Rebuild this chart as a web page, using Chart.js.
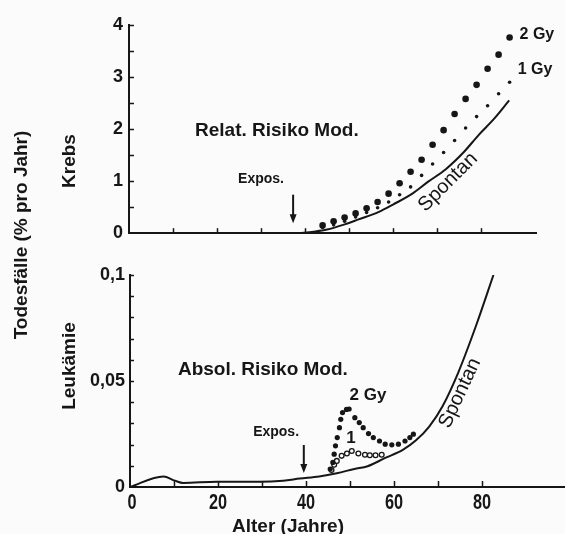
<!DOCTYPE html>
<html>
<head>
<meta charset="utf-8">
<script src="https://cdn.jsdelivr.net/npm/chart.js@4.4.1/dist/chart.umd.min.js"></script>
<style>
  html, body { margin: 0; padding: 0; background: #fbfbfb; }
  #wrap { position: relative; width: 565px; height: 534px; overflow: hidden; background: #fbfbfb; }
  canvas { position: absolute; left: 0; }
  .t { position: absolute; white-space: nowrap; font-family: "Liberation Sans", Arial, sans-serif;
       font-weight: bold; color: #161616; transform: translate(-50%, -50%); line-height: 1; }
  .v { transform: translate(-50%, -50%) rotate(-90deg); }
</style>
</head>
<body>
<div id="wrap">
  <canvas id="krebs" width="565" height="250" style="top:0"></canvas>
  <canvas id="leuk" width="565" height="284" style="top:250px"></canvas>
  <div class="t v" style="left:20px; top:235px; font-size:19px">Todesfälle (% pro Jahr)</div>
  <div class="t v" style="left:68px; top:161px; font-size:19px">Krebs</div>
  <div class="t v" style="left:68px; top:366px; font-size:19px">Leukämie</div>
  <div class="t" style="left:288px; top:525px; font-size:19px">Alter (Jahre)</div>
</div>
<script>
// ---- Krebs (relative risk model), deaths in % per year ----
const krebsSpontanAge = [38.6, 42, 45, 49, 52, 56.8, 60, 64.4, 68, 72, 76, 79.5, 83, 86.4];
const krebsSpontan    = [0, 0.03, 0.07, 0.17, 0.26, 0.41, 0.55, 0.76, 0.99, 1.23, 1.55, 1.89, 2.2, 2.55];
const krebsDoseAge    = [44, 46.5, 49, 51.5, 54, 56.5, 59, 61.5, 64, 66.5, 69, 71.5, 74, 76.5, 79, 81.5, 84, 86.5];
const krebs2Gy        = [0.15, 0.23, 0.30, 0.38, 0.48, 0.60, 0.76, 0.96, 1.18, 1.41, 1.70, 1.98, 2.29, 2.58, 2.85, 3.16, 3.43, 3.76];
const krebs1Gy        = [0.11, 0.16, 0.23, 0.31, 0.40, 0.49, 0.60, 0.74, 0.89, 1.11, 1.33, 1.55, 1.78, 2.02, 2.24, 2.45, 2.68, 2.90];

// ---- Leukämie (absolute risk model) ----
const leukSpontanAge = [0, 7.6, 10.2, 12.1, 19.7, 29.5, 34.8, 38.6, 43, 47, 51, 54, 58, 62, 65, 68, 71, 74.6, 78.8, 82.6];
const leukSpontan    = [0, 0.005, 0.003, 0.0019, 0.0025, 0.0025, 0.003, 0.004, 0.005, 0.0065, 0.0085, 0.0098, 0.0137, 0.0175, 0.022, 0.0285, 0.038, 0.054, 0.077, 0.1];
const leuk2GyAge = [45.5, 46.1, 46.4, 46.7, 47.1, 47.6, 47.9, 48.3, 49.2, 49.8, 51.1, 52.1, 53, 54.2, 55.3, 56.7, 58, 59.5, 61, 62.5, 63.6, 64.4];
const leuk2Gy    = [0.0085, 0.0116, 0.0155, 0.0194, 0.0233, 0.028, 0.0319, 0.0351, 0.0366, 0.0368, 0.0327, 0.0304, 0.028, 0.0252, 0.0233, 0.0217, 0.0202, 0.0199, 0.0202, 0.0217, 0.0233, 0.0249];
const leuk1GyAge = [45.8, 46.4, 47, 48.1, 49.3, 50.4, 51.9, 53.4, 54.5, 55.8, 57.2];
const leuk1Gy    = [0.008, 0.0105, 0.0123, 0.0147, 0.0158, 0.017, 0.0158, 0.0152, 0.015, 0.015, 0.0152];

// Axis ticks
const ageLabelTicks = [0, 20, 40, 60, 80];
const krebsLabelTicks = [0, 1, 2, 3, 4];
const leukLabelTicks = [0, 0.05, 0.1];

const INK = '#161616';
const SANS = '"Liberation Sans", Arial, sans-serif';

const pts = (xs, ys) => xs.map((x, i) => ({ x, y: ys[i] }));
const near = (v, list) => list.some(l => Math.abs(l - v) < 1e-9);
const deNum = v => String(Math.round(v * 1000) / 1000).replace('.', ',');

// Short tick marks pointing into the plot, like a hand-drawn axis
const inwardTicks = {
  id: 'inwardTicks',
  afterDatasetsDraw(chart, args, o) {
    const { ctx, scales: { x, y } } = chart;
    ctx.save();
    ctx.strokeStyle = INK;
    ctx.lineWidth = 1.5;
    y.ticks.forEach(t => {
      if (t.value <= y.min) return;
      const py = Math.round(y.getPixelForValue(t.value)) + 0.5;
      ctx.beginPath(); ctx.moveTo(x.left, py); ctx.lineTo(x.left + o.yLen, py); ctx.stroke();
    });
    x.ticks.forEach(t => {
      if (t.value <= x.min || t.value > o.xLast) return;
      const px = Math.round(x.getPixelForValue(t.value)) + 0.5;
      ctx.beginPath(); ctx.moveTo(px, y.bottom); ctx.lineTo(px, y.bottom - o.xLen); ctx.stroke();
    });
    // narrow, hand-lettered age numbers under the axis
    if (o.ageLabels) {
      ctx.fillStyle = INK;
      ctx.font = 'bold 22px ' + SANS;
      ctx.textAlign = 'center';
      ctx.textBaseline = 'middle';
      x.ticks.forEach(t => {
        if (!near(t.value, o.ageLabels)) return;
        const px = x.getPixelForValue(t.value) + (t.value === 0 ? 2 : 0);
        ctx.save();
        ctx.translate(px, y.bottom + o.labelOffset);
        ctx.scale(0.74, 1);
        ctx.fillText(String(t.value), 0, 0);
        ctx.restore();
      });
    }
    ctx.restore();
  }
};

// Labels and exposure arrows placed in data coordinates
const notes = {
  id: 'notes',
  afterDatasetsDraw(chart, args, o) {
    const { ctx, scales: { x, y } } = chart;
    ctx.save();
    ctx.fillStyle = INK;
    ctx.strokeStyle = INK;
    (o.items || []).forEach(it => {
      const px = x.getPixelForValue(it.x);
      if (it.arrow) {
        const y1 = y.getPixelForValue(it.from), y2 = y.getPixelForValue(it.to);
        ctx.lineWidth = 2;
        ctx.beginPath(); ctx.moveTo(px, y1); ctx.lineTo(px, y2 - 7); ctx.stroke();
        ctx.beginPath(); ctx.moveTo(px - 3.5, y2 - 9); ctx.lineTo(px + 3.5, y2 - 9); ctx.lineTo(px, y2); ctx.closePath(); ctx.fill();
        return;
      }
      const py = y.getPixelForValue(it.y);
      ctx.save();
      ctx.translate(px, py);
      if (it.rot) ctx.rotate(it.rot * Math.PI / 180);
      ctx.font = it.font;
      ctx.textAlign = 'center';
      ctx.textBaseline = 'middle';
      ctx.fillText(it.text, 0, 0);
      ctx.restore();
    });
    ctx.restore();
  }
};

const axisBorder = { display: true, color: INK, width: 2 };
const noGrid = { display: false, drawTicks: false };
// fixed axis boxes so both panels share the same plot frame
const fixBox = (w, h) => s => {
  if (w !== null) s.width = w;
  if (h !== null) s.height = h;
};

new Chart(document.getElementById('krebs'), {
  type: 'scatter',
  data: {
    datasets: [
      { label: 'Spontan', data: pts(krebsSpontanAge, krebsSpontan), showLine: true, pointRadius: 0,
        borderColor: INK, borderWidth: 2, cubicInterpolationMode: 'monotone', order: 3 },
      { label: '1 Gy', data: pts(krebsDoseAge, krebs1Gy), pointRadius: 1.8, pointBorderWidth: 0,
        pointBackgroundColor: INK, showLine: false, order: 1 },
      { label: '2 Gy', data: pts(krebsDoseAge, krebs2Gy), pointRadius: 3.3, pointBorderWidth: 0,
        pointBackgroundColor: INK, showLine: false, order: 2 }
    ]
  },
  options: {
    responsive: false, animation: false, devicePixelRatio: 1,
    layout: { autoPadding: false, padding: { left: 0, top: 25, right: 29, bottom: 0 } },
    plugins: {
      legend: { display: false }, tooltip: { enabled: false },
      inwardTicks: { yLen: 5, xLen: 5, xLast: 80 },
      notes: { items: [
        { text: 'Relat. Risiko Mod.', x: 33.6, y: 1.96, font: 'bold 19px ' + SANS },
        { text: 'Expos.', x: 30, y: 1.04, font: 'bold 14px ' + SANS },
        { arrow: true, x: 37.3, from: 0.74, to: 0.19 },
        { text: '2 Gy', x: 92.7, y: 3.81, font: 'bold 16px ' + SANS },
        { text: '1 Gy', x: 92.3, y: 3.15, font: 'bold 16px ' + SANS },
        { text: 'Spontan', x: 72.5, y: 0.98, rot: -45, font: '20px ' + SANS }
      ] }
    },
    scales: {
      x: { type: 'linear', min: 0, max: 92.5,
           ticks: { display: false, stepSize: 10, autoSkip: false, includeBounds: false },
           grid: noGrid, border: axisBorder,
           afterFit: fixBox(null, 13) },
      y: { type: 'linear', min: 0, max: 4,
           ticks: { stepSize: 0.5, autoSkip: false, padding: 6, color: INK,
                    font: { family: SANS, size: 18, weight: 'bold' },
                    callback: v => near(v, krebsLabelTicks) ? deNum(v) : '' },
           grid: noGrid, border: axisBorder,
           afterFit: fixBox(129, null) }
    }
  },
  plugins: [inwardTicks, notes]
});

new Chart(document.getElementById('leuk'), {
  type: 'scatter',
  data: {
    datasets: [
      { label: 'Spontan', data: pts(leukSpontanAge, leukSpontan), showLine: true, pointRadius: 0,
        borderColor: INK, borderWidth: 2, cubicInterpolationMode: 'monotone', order: 3 },
      { label: '1 Gy', data: pts(leuk1GyAge, leuk1Gy), pointRadius: 2.4, pointBorderWidth: 1.3,
        pointBorderColor: INK, pointBackgroundColor: '#fbfbfb', showLine: false, order: 2 },
      { label: '2 Gy', data: pts(leuk2GyAge, leuk2Gy), pointRadius: 2.6, pointBorderWidth: 0,
        pointBackgroundColor: INK, showLine: false, order: 1 }
    ]
  },
  options: {
    responsive: false, animation: false, devicePixelRatio: 1,
    layout: { autoPadding: false, padding: { left: 0, top: 25, right: 0, bottom: 0 } },
    plugins: {
      legend: { display: false }, tooltip: { enabled: false },
      inwardTicks: { yLen: 4, xLen: 6, xLast: 80, ageLabels: ageLabelTicks, labelOffset: 16 },
      notes: { items: [
        { text: 'Absol. Risiko Mod.', x: 30.2, y: 0.0552, font: 'bold 19px ' + SANS },
        { text: '2 Gy', x: 54.1, y: 0.0434, font: 'bold 17px ' + SANS },
        { text: '1', x: 50.2, y: 0.0231, font: 'bold 17px ' + SANS },
        { text: 'Expos.', x: 33.2, y: 0.0259, font: 'bold 14px ' + SANS },
        { arrow: true, x: 39.5, from: 0.0198, to: 0.0066 },
        { text: 'Spontan', x: 75, y: 0.0443, rot: -65, font: '20px ' + SANS }
      ] }
    },
    scales: {
      x: { type: 'linear', min: 0, max: 98.86,
           ticks: { display: false, stepSize: 10, autoSkip: false, includeBounds: false },
           grid: noGrid, border: axisBorder,
           afterFit: fixBox(null, 47) },
      y: { type: 'linear', min: 0, max: 0.1,
           ticks: { stepSize: 0.01, autoSkip: false, padding: 5, color: INK,
                    font: { family: SANS, size: 18, weight: 'bold' },
                    callback: v => near(v, leukLabelTicks) ? deNum(v) : '' },
           grid: noGrid, border: axisBorder,
           afterFit: fixBox(130, null) }
    }
  },
  plugins: [inwardTicks, notes]
});
</script>
</body>
</html>
